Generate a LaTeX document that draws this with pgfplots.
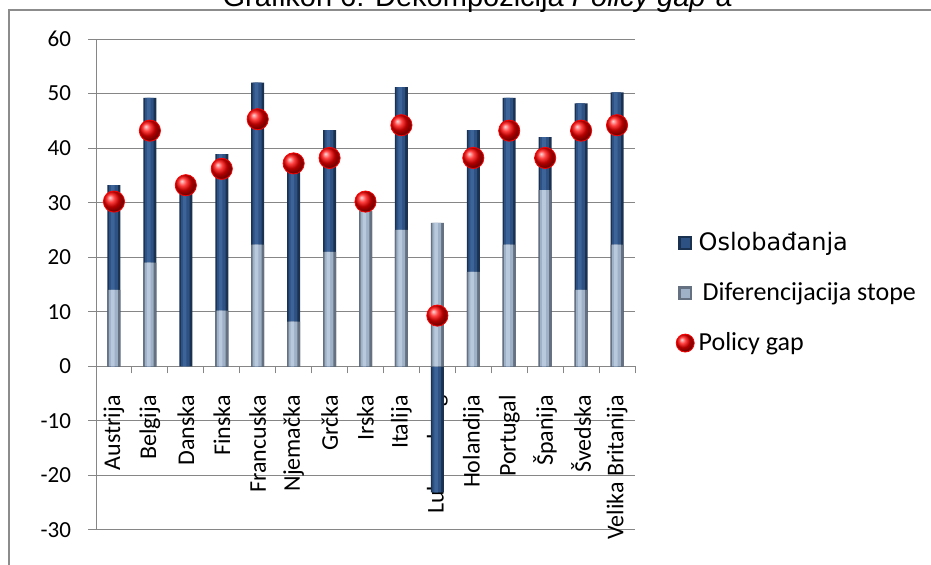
\documentclass[border=0pt]{standalone}
\usepackage{fontspec}
\setmainfont{Carlito}
\newfontfamily\dejavu{DejaVu Sans}
\newfontfamily\arialf{Liberation Sans}
\usepackage{pgfplots}
\pgfplotsset{compat=1.18}
\usepackage{pgfplotstable}
\usetikzlibrary{shadings}

\definecolor{gridgray}{HTML}{868686}
\definecolor{framegray}{HTML}{8C8C8C}
\definecolor{navyA}{HTML}{1A3150}
\definecolor{navyB}{HTML}{2D5182}
\definecolor{navyC}{HTML}{3C6499}
\definecolor{greyA}{HTML}{657180}
\definecolor{greyB}{HTML}{9FB1C7}
\definecolor{greyC}{HTML}{B9C9DD}

\pgfplotsset{
  layers/labels over bars/.define layer set={axis background,axis grid,main,axis ticks,axis lines,axis tick labels,axis descriptions,axis foreground}{},
  navylegend/.style={legend image code/.code={\fill[navyA] (0pt,-3.5pt) rectangle (7pt,3.5pt);
    \fill[navyB] (1.2pt,-2.3pt) rectangle (5.8pt,2.3pt);}},
  greylegend/.style={legend image code/.code={\fill[greyA] (0pt,-3.5pt) rectangle (7pt,3.5pt);
    \fill[greyB] (1.2pt,-2.3pt) rectangle (5.8pt,2.3pt);}},
  balllegend/.style={legend image code/.code={\draw[mark repeat=2, mark phase=2, ##1, mark size=4.5pt]
    plot coordinates {(0pt,0pt)(3.5pt,0pt)(7pt,0pt)};}},
  col/.style={ybar, draw=none, bar shift=0pt, bar width=6.5pt},
  colmid/.style={ybar, draw=none, bar shift=-0.3pt, bar width=4.4pt, forget plot},
  colin/.style={ybar, draw=none, bar shift=-0.6pt, bar width=1.8pt, forget plot},
}

% dif = top of the light part, top = top (or bottom) of the dark part
\pgfplotstableread{
i   dif   top    gap
0   14.0  33.2   30.2
1   19.0  49.2   43.2
2   0.0   33.0   33.2
3   10.2  38.9   36.2
4   22.3  52.0   45.3
5   8.2   37.0   37.2
6   21.0  43.3   38.2
7   28.5  28.5   30.2
8   25.0  51.2   44.2
9   26.3  -23.1  9.3
10  17.3  43.3   38.2
11  22.3  49.2   43.2
12  32.3  42.0   38.2
13  14.0  48.2   43.2
14  22.3  50.2   44.2
}\gapdata

\begin{document}
\begin{tikzpicture}
\draw[framegray, line width=1pt] (4.5pt,-5.25pt) rectangle (480pt,-300pt);
\node[anchor=base, inner sep=0pt, font=\arialf\fontsize{14.5}{16}\selectfont]
  at (238.5pt,-3.5pt) {Grafikon 6: Dekompozicija \textit{Policy gap}-a};
\begin{axis}[
  set layers=labels over bars,
  at={(48pt,-265pt)}, anchor=south west,
  scale only axis, width=269.5pt, height=245.5pt,
  xmin=-0.5, xmax=14.5, ymin=-30, ymax=60,
  ytick={-30,-20,...,60},
  xtick={0,...,14},
  xticklabels={Austrija,Belgija,Danska,Finska,Francuska,Njemačka,Grčka,Irska,Italija,Luksemburg,Holandija,Portugal,Španija,Švedska,Velika Britanija},
  minor xtick={-0.5,0.5,...,14.5},
  axis y line*=left, axis x line*=middle,
  axis line style={-, gridgray, line width=0.5pt},
  tick align=outside,
  major tick length=4pt, minor tick length=3.5pt,
  major x tick style={draw=none},
  minor x tick style={draw=gridgray, line width=0.5pt},
  y tick style={draw=gridgray, line width=0.5pt},
  ymajorgrids, grid style={gridgray, line width=0.5pt},
  /pgf/number format/assume math mode=true,
  yticklabel style={xshift=-5pt, font=\fontsize{11.5}{13}\selectfont},
  xticklabel style={yshift=-7pt, rotate=90, anchor=east, text=black, font=\fontsize{12}{14}\selectfont},
  legend style={at={(1.075,0.615)}, anchor=north west, draw=none, fill=none,
    row sep=10.5pt, inner sep=0pt, font=\fontsize{13}{15}\selectfont},
  legend cell align=left,
]
\addplot[col, fill=navyA, navylegend] table[x=i, y=top] {\gapdata};
\addlegendentry{\dejavu\fontsize{12}{14}\selectfont Oslobađanja}
\addplot[colmid, fill=navyB] table[x=i, y=top] {\gapdata};
\addplot[colin, fill=navyC] table[x=i, y=top] {\gapdata};
\addplot[col, fill=greyA, greylegend] table[x=i, y=dif] {\gapdata};
\addlegendentry{\hspace{2pt}Diferencijacija stope}
\addplot[colmid, fill=greyB] table[x=i, y=dif] {\gapdata};
\addplot[colin, fill=greyC] table[x=i, y=dif] {\gapdata};
\addplot[only marks, color=red, mark=ball, mark size=5.3pt,
  mark options={ball color=red}, balllegend]
  table[x=i, y=gap] {\gapdata};
\addlegendentry{Policy gap}
\end{axis}
\pgfresetboundingbox
\useasboundingbox (0pt,0pt) rectangle (465.5pt,-282.5pt);
\end{tikzpicture}
\end{document}
